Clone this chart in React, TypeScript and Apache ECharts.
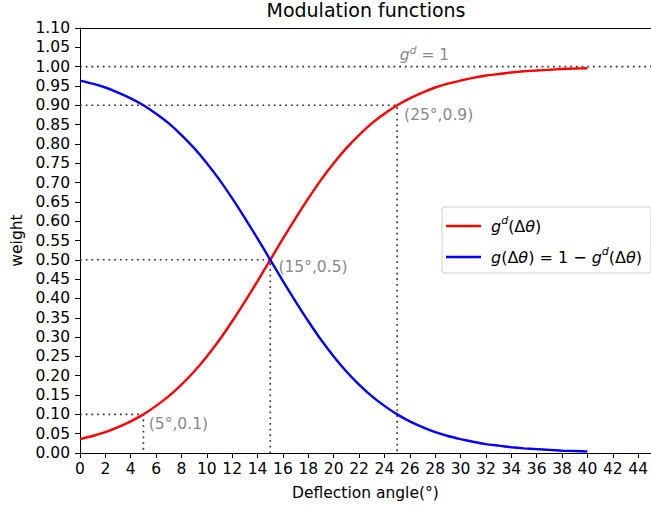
import React, { useEffect, useRef } from "react";
import * as echarts from "echarts";

// Deflection angles (°)
const angles = [
  0, 1, 2, 3, 4, 5, 6, 7, 8, 9, 10, 11, 12, 13, 14, 15, 16, 17, 18, 19, 20,
  21, 22, 23, 24, 25, 26, 27, 28, 29, 30, 31, 32, 33, 34, 35, 36, 37, 38, 39, 40,
];
// g^d(Δθ)
const gdValues = [
  0.036, 0.044, 0.054, 0.067, 0.082, 0.1, 0.122, 0.147, 0.177, 0.211, 0.25,
  0.293, 0.341, 0.392, 0.445, 0.5, 0.555, 0.608, 0.659, 0.707, 0.75,
  0.789, 0.823, 0.853, 0.878, 0.9, 0.918, 0.933, 0.946, 0.956, 0.964,
  0.971, 0.977, 0.981, 0.985, 0.988, 0.99, 0.992, 0.994, 0.995, 0.996,
];
// g(Δθ) = 1 - g^d(Δθ)
const gValues = [
  0.964, 0.956, 0.946, 0.933, 0.918, 0.9, 0.878, 0.853, 0.823, 0.789, 0.75,
  0.707, 0.659, 0.608, 0.555, 0.5, 0.445, 0.392, 0.341, 0.293, 0.25,
  0.211, 0.177, 0.147, 0.122, 0.1, 0.082, 0.067, 0.054, 0.044, 0.036,
  0.029, 0.023, 0.019, 0.015, 0.012, 0.01, 0.008, 0.006, 0.005, 0.004,
];
// dotted guide polylines
const guideOne = [[0, 1], [45, 1]];
const guide25 = [[0, 0.9], [25, 0.9], [25, 0]];
const guide15 = [[0, 0.5], [15, 0.5], [15, 0]];
const guide5 = [[0, 0.1], [5, 0.1], [5, 0]];
// annotation anchors [x, y, label]
const annotations: [number, number, string][] = [
  [25.2, 1.031, "{i|g}{s|d}{n| = 1}"],
  [25.55, 0.876, "{n|(25°,0.9)}"],
  [15.64, 0.482, "{n|(15°,0.5)}"],
  [5.42, 0.075, "{n|(5°,0.1)}"],
];
const seriesNames = ["g^d(Δθ)", "g(Δθ) = 1 − g^d(Δθ)"];
const legendLabels: Record<string, string> = {
  "g^d(Δθ)": "{i|g}{s|d}{n|(Δ}{i|θ}{n|)}",
  "g(Δθ) = 1 − g^d(Δθ)":
    "{i|g}{n|(Δ}{i|θ}{n|) = 1 − }{i|g}{s|d}{n|(Δ}{i|θ}{n|)}",
};

const FONT = "DejaVu Sans";
const TICK = 15.5;

export default function App() {
  const ref = useRef<HTMLDivElement>(null);
  useEffect(() => {
    document.body.style.margin = "0";
    const chart = echarts.init(ref.current!, null, { renderer: "svg" });
    const guideStyle = { color: "#333", width: 1.6, type: [1.8, 3.9] as any };
    const guideSeries = [guideOne, guide25, guide15, guide5].map((d) => ({
      type: "line",
      data: d,
      symbol: "none",
      silent: true,
      lineStyle: guideStyle,
      z: 1,
    }));
    const grey = "#666666";
    const annRich = {
      n: { fontSize: 15.5, color: grey, fontFamily: FONT, lineHeight: 20 },
      i: {
        fontSize: 15.5,
        color: grey,
        fontFamily: FONT,
        fontStyle: "italic",
        lineHeight: 20,
      },
      s: {
        fontSize: 11,
        color: grey,
        fontFamily: FONT,
        fontStyle: "italic",
        verticalAlign: "top",
        lineHeight: 11,
      },
    };
    chart.setOption({
      animation: false,
      title: {
        text: "Modulation functions",
        left: 366,
        textAlign: "center",
        top: 0,
        padding: 0,
        textStyle: {
          fontFamily: FONT,
          fontSize: 19,
          fontWeight: "normal",
          color: "#000",
        },
      },
      grid: { left: 80, top: 28, width: 572, height: 427, containLabel: false },
      legend: {
        orient: "vertical",
        left: 442,
        top: 207,
        padding: [8, 9, 8, 4],
        itemGap: 12,
        itemWidth: 35,
        itemHeight: 2.5,
        icon: "rect",
        borderColor: "#cccccc",
        borderWidth: 1,
        borderRadius: 3,
        backgroundColor: "#fff",
        data: seriesNames,
        formatter: (name: string) => legendLabels[name],
        textStyle: {
          fontFamily: FONT,
          color: "#000",
          padding: [0, 0, 0, 5],
          rich: {
            n: { fontSize: 16, fontFamily: FONT, color: "#000", lineHeight: 22 },
            i: {
              fontSize: 16,
              fontFamily: FONT,
              fontStyle: "italic",
              color: "#000",
              lineHeight: 22,
            },
            s: {
              fontSize: 11,
              fontFamily: FONT,
              fontStyle: "italic",
              color: "#000",
              verticalAlign: "top",
              lineHeight: 12,
            },
          },
        },
      },
      xAxis: [
        {
          type: "value",
          min: 0,
          max: 45,
          interval: 2,
          name: "Deflection angle(°)",
          nameLocation: "middle",
          nameGap: 32,
          nameTextStyle: { fontFamily: FONT, fontSize: TICK, color: "#000" },
          axisLine: { show: true, lineStyle: { color: "#000", width: 1 } },
          axisTick: { show: true, length: 5, lineStyle: { color: "#000" } },
          axisLabel: {
            fontFamily: FONT,
            fontSize: TICK,
            color: "#000",
            margin: 8,
            showMaxLabel: false,
          },
          splitLine: { show: false },
        },
        {
          type: "value",
          position: "top",
          min: 0,
          max: 45,
          axisLine: { show: true, lineStyle: { color: "#000", width: 1 } },
          axisTick: { show: false },
          axisLabel: { show: false },
          splitLine: { show: false },
        },
      ],
      yAxis: {
        type: "value",
        min: 0,
        max: 1.1,
        interval: 0.05,
        name: "weight",
        nameLocation: "middle",
        nameGap: 55,
        nameTextStyle: { fontFamily: FONT, fontSize: TICK, color: "#000" },
        axisLine: { show: true, lineStyle: { color: "#000", width: 1 } },
        axisTick: { show: true, length: 5, lineStyle: { color: "#000" } },
        axisLabel: {
          fontFamily: FONT,
          fontSize: TICK,
          color: "#000",
          margin: 10,
          formatter: (v: number) => v.toFixed(2),
        },
        splitLine: { show: false },
      },
      series: [
        ...guideSeries,
        {
          name: seriesNames[0],
          type: "line",
          data: angles.map((a, k) => [a, gdValues[k]]),
          symbol: "none",
          smooth: 0.2,
          lineStyle: { color: "#ff0000", width: 2.4 },
          itemStyle: { color: "#ff0000" },
          z: 3,
        },
        {
          name: seriesNames[1],
          type: "line",
          data: angles.map((a, k) => [a, gValues[k]]),
          symbol: "none",
          smooth: 0.2,
          lineStyle: { color: "#0000ff", width: 2.4 },
          itemStyle: { color: "#0000ff" },
          z: 3,
        },
        {
          type: "scatter",
          symbolSize: 0,
          silent: true,
          data: annotations.map((a) => ({ value: [a[0], a[1]], label: { formatter: a[2] } })),
          label: {
            show: true,
            position: [0, 0],
            align: "left",
            verticalAlign: "middle",
            rich: annRich,
          },
          z: 4,
        },
      ],
    });
    return () => chart.dispose();
  }, []);
  return <div ref={ref} style={{ width: 651, height: 506 }} />;
}
